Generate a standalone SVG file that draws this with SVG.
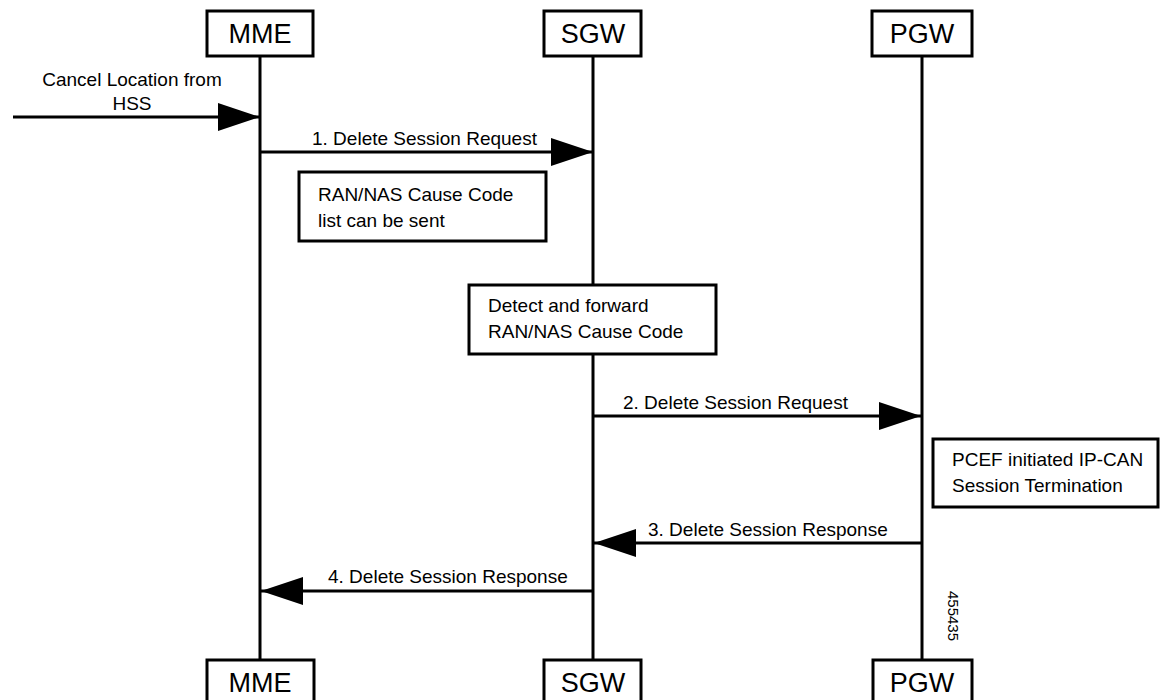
<svg xmlns="http://www.w3.org/2000/svg" width="1161" height="700" viewBox="0 0 1161 700">
<style>
.box{fill:#fff;stroke:#000;stroke-width:3}
.life{stroke:#000;stroke-width:3;fill:none}
.msg{stroke:#000;stroke-width:3;fill:none;marker-end:url(#ah)}
.t{font-family:"Liberation Sans",Arial,sans-serif;font-size:19px;fill:#000}
.nt{font-family:"Liberation Sans",Arial,sans-serif;font-size:27px;fill:#000;text-anchor:middle}
</style>
<defs>
<marker id="ah" markerUnits="userSpaceOnUse" markerWidth="42" markerHeight="28" refX="42" refY="14" orient="auto" viewBox="0 0 42 28">
<path d="M0,0 L42,14 L0,28 z" fill="#000"/>
</marker>
</defs>
<rect width="1161" height="700" fill="#fff"/>
<g id="lifelines">
<line class="life" x1="260" y1="56" x2="260" y2="661"/>
<line class="life" x1="593" y1="56" x2="593" y2="661"/>
<line class="life" x1="922" y1="56" x2="922" y2="661"/>
</g>
<g id="connectors">
<line class="msg" x1="13" y1="117" x2="260" y2="117"/>
<line class="msg" x1="260" y1="152" x2="593" y2="152"/>
<line class="msg" x1="593" y1="416" x2="921" y2="416"/>
<line class="msg" x1="922" y1="543" x2="594" y2="543"/>
<line class="msg" x1="593" y1="591" x2="261" y2="591"/>
<text class="t" x="132" y="86" text-anchor="middle">Cancel Location from</text>
<text class="t" x="132" y="110" text-anchor="middle">HSS</text>
<text class="t" x="312" y="145">1. Delete Session Request</text>
<text class="t" x="623" y="409">2. Delete Session Request</text>
<text class="t" x="648" y="536">3. Delete Session Response</text>
<text class="t" x="328" y="583">4. Delete Session Response</text>
</g>
<g id="mme-top"><rect class="box" x="207" y="11" width="106" height="45"/><text class="nt" x="260" y="43">MME</text></g>
<g id="sgw-top"><rect class="box" x="544" y="11" width="97" height="45"/><text class="nt" x="593" y="43">SGW</text></g>
<g id="pgw-top"><rect class="box" x="872" y="11" width="100" height="45"/><text class="nt" x="922" y="43">PGW</text></g>
<g id="mme-bottom"><rect class="box" x="207" y="660" width="107" height="50"/><text class="nt" x="260" y="692">MME</text></g>
<g id="sgw-bottom"><rect class="box" x="544" y="660" width="97" height="50"/><text class="nt" x="593" y="692">SGW</text></g>
<g id="pgw-bottom"><rect class="box" x="873" y="660" width="99" height="50"/><text class="nt" x="922" y="692">PGW</text></g>
<g id="note-ran"><rect class="box" x="299" y="172" width="247" height="69"/><text class="t" x="318" y="201">RAN/NAS Cause Code</text><text class="t" x="318" y="227">list can be sent</text></g>
<g id="note-detect"><rect class="box" x="469" y="285" width="247" height="69"/><text class="t" x="488" y="312">Detect and forward</text><text class="t" x="488" y="338">RAN/NAS Cause Code</text></g>
<g id="note-pcef"><rect class="box" x="933" y="439" width="225" height="68"/><text class="t" x="952" y="466">PCEF initiated IP-CAN</text><text class="t" x="952" y="492">Session Termination</text></g>
<g id="figure-id"><text class="t" style="font-size:15px" transform="translate(948,591) rotate(90)">455435</text></g>
</svg>
